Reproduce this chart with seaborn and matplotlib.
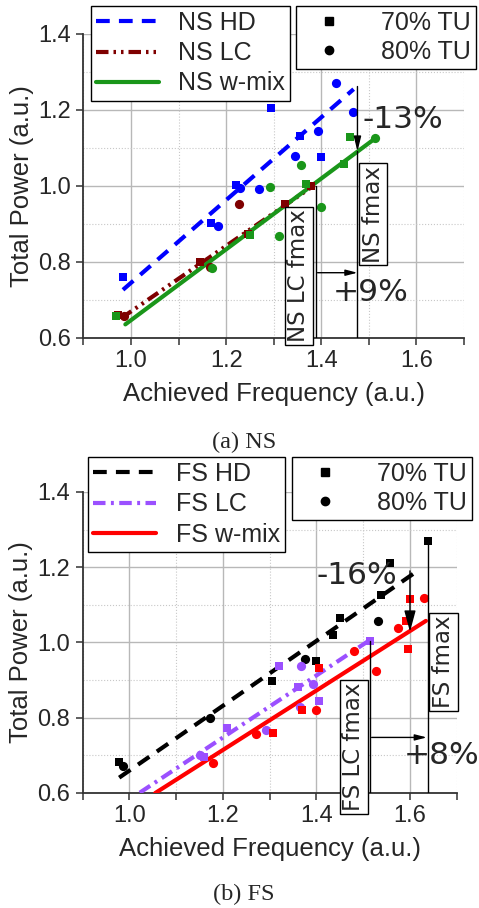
import matplotlib
matplotlib.use("Agg")
import matplotlib.pyplot as plt
import seaborn as sns
import pandas as pd
from matplotlib.lines import Line2D
from matplotlib.ticker import MultipleLocator

# ---------------- data: (a) NS ----------------
ns_hd_sq_x = [0.984, 1.169, 1.221, 1.295, 1.355, 1.400]
ns_hd_sq_y = [0.759, 0.901, 1.002, 1.205, 1.131, 1.076]
ns_hd_ci_x = [1.183, 1.228, 1.269, 1.344, 1.392, 1.431, 1.466]
ns_hd_ci_y = [0.895, 0.994, 0.991, 1.078, 1.145, 1.271, 1.193]
ns_lc_sq_x = [0.972, 1.144, 1.245, 1.323, 1.379]
ns_lc_sq_y = [0.660, 0.800, 0.873, 0.952, 0.999]
ns_lc_ci_x = [0.986, 1.165, 1.227]
ns_lc_ci_y = [0.657, 0.787, 0.952]
ns_wm_sq_x = [0.969, 1.251, 1.367, 1.448, 1.460]
ns_wm_sq_y = [0.657, 0.870, 1.004, 1.056, 1.129]
ns_wm_ci_x = [1.171, 1.292, 1.310, 1.358, 1.399, 1.513]
ns_wm_ci_y = [0.783, 0.997, 0.868, 1.054, 0.945, 1.125]
ns_hd_fit_x = [0.983, 1.468]
ns_hd_fit_y = [0.726, 1.254]
ns_lc_fit_x = [0.979, 1.386]
ns_lc_fit_y = [0.651, 1.002]
ns_wm_fit_x = [0.988, 1.516]
ns_wm_fit_y = [0.635, 1.127]

# ---------------- data: (b) FS ----------------
fs_hd_sq_x = [0.978, 1.304, 1.399, 1.436, 1.450, 1.539, 1.557, 1.639]
fs_hd_sq_y = [0.682, 0.898, 0.951, 1.019, 1.064, 1.126, 1.212, 1.270]
fs_hd_ci_x = [0.987, 1.172, 1.375, 1.531]
fs_hd_ci_y = [0.670, 0.799, 0.955, 1.057]
fs_lc_sq_x = [1.160, 1.209, 1.320, 1.361, 1.406, 1.514]
fs_lc_sq_y = [0.695, 0.773, 0.937, 0.882, 0.843, 1.004]
fs_lc_ci_x = [1.151, 1.293, 1.365, 1.366, 1.393]
fs_lc_ci_y = [0.700, 0.766, 0.828, 0.938, 0.890]
fs_wm_sq_x = [1.308, 1.370, 1.405, 1.591, 1.595, 1.600]
fs_wm_sq_y = [0.760, 0.821, 0.931, 1.057, 0.982, 1.115]
fs_wm_ci_x = [1.179, 1.270, 1.399, 1.480, 1.527, 1.574, 1.631]
fs_wm_ci_y = [0.679, 0.757, 0.819, 0.977, 0.924, 1.039, 1.117]
fs_hd_fit_x = [0.978, 1.616]
fs_hd_fit_y = [0.640, 1.190]
fs_lc_fit_x = [1.022, 1.514]
fs_lc_fit_y = [0.600, 1.006]
fs_wm_fit_x = [1.055, 1.634]
fs_wm_fit_y = [0.599, 1.057]

ns_labels = ["NS HD", "NS LC", "NS w-mix"]
fs_labels = ["FS HD", "FS LC", "FS w-mix"]
tu_labels = ["70% TU", "80% TU"]

sns.set_style("white")
plt.rcParams["font.family"] = ["Liberation Sans", "DejaVu Sans"]

fig = plt.figure(figsize=(4.79, 9.08), dpi=100)
ax1 = fig.add_axes([0.1743, 0.6281, 0.7944, 0.3348])
ax2 = fig.add_axes([0.1727, 0.1270, 0.7808, 0.3312])

C_BLUE, C_DRED, C_GREEN = "#0000ff", "#7f0000", "#1a961a"
C_BLACK, C_PURP, C_RED = "#000000", "#9b50ff", "#ff0000"
LS_HD = (0, (3.3, 2.2))
LS_LC_NS = (0, (3.0, 1.2, 0.6, 1.2, 0.6, 1.2))
LS_LC_FS = (0, (3.0, 1.3, 0.7, 1.3))
LS_WM = "-"
LW = 3.0


def style_axis(ax):
    ax.set_xlim(0.9, 1.7)
    ax.set_ylim(0.6, 1.4)
    ax.xaxis.set_major_locator(MultipleLocator(0.2))
    ax.xaxis.set_minor_locator(MultipleLocator(0.1))
    ax.yaxis.set_major_locator(MultipleLocator(0.2))
    ax.yaxis.set_minor_locator(MultipleLocator(0.1))
    ax.set_xticks([1.0, 1.2, 1.4, 1.6])
    ax.set_xticklabels(["1.0", "1.2", "1.4", "1.6"])
    ax.set_yticks([0.6, 0.8, 1.0, 1.2, 1.4])
    ax.set_yticklabels(["0.6", "0.8", "1.0", "1.2", "1.4"])
    ax.tick_params(axis="x", which="both", direction="out", length=5, width=1.1,
                   color="#333333", labelsize=17, pad=4, bottom=True)
    ax.tick_params(axis="y", which="major", direction="out", length=5, width=1.1,
                   color="#333333", labelsize=17, pad=4, left=True)
    ax.tick_params(axis="y", which="minor", length=0)
    ax.grid(which="major", color="#b8b8b8", lw=1.0, ls="-")
    ax.grid(which="minor", color="#c8c8c8", lw=0.8, ls=":")
    ax.set_axisbelow(True)
    for s in ["top", "right"]:
        ax.spines[s].set_visible(False)
    for s in ["left", "bottom"]:
        ax.spines[s].set_color("#333333")
        ax.spines[s].set_linewidth(1.3)
    ax.set_xlabel("Achieved Frequency (a.u.)", fontsize=18.5, labelpad=7)
    ax.set_ylabel("Total Power (a.u.)", fontsize=18.5, labelpad=3)


def draw_series(ax, sqx, sqy, cix, ciy, fx, fy, color, ls):
    sns.lineplot(x=fx, y=fy, ax=ax, color=color, lw=LW, linestyle=ls,
                 sort=False, estimator=None, zorder=3)
    sns.scatterplot(x=sqx, y=sqy, ax=ax, color=color, marker="s", s=34,
                    linewidth=0, zorder=4)
    sns.scatterplot(x=cix, y=ciy, ax=ax, color=color, marker="o", s=44,
                    linewidth=0, zorder=4)


def fmax_box(ax, x, y, label):
    ax.text(x, y, label, rotation=90, ha="center", va="center", fontsize=16.5,
            family="DejaVu Sans", zorder=6, clip_on=False,
            bbox=dict(boxstyle="square,pad=0.12", fc="white", ec="black", lw=1))


def arrow(ax, x0, y0, x1, y1, hl=0.8, hw=0.25):
    ax.annotate("", xy=(x1, y1), xytext=(x0, y0), zorder=5,
                arrowprops=dict(arrowstyle=f"-|>,head_length={hl},head_width={hw}",
                                color="black", lw=1, shrinkA=0, shrinkB=0))


# ---------------- panel (a) ----------------
draw_series(ax1, ns_hd_sq_x, ns_hd_sq_y, ns_hd_ci_x, ns_hd_ci_y, ns_hd_fit_x, ns_hd_fit_y, C_BLUE, LS_HD)
draw_series(ax1, ns_lc_sq_x, ns_lc_sq_y, ns_lc_ci_x, ns_lc_ci_y, ns_lc_fit_x, ns_lc_fit_y, C_DRED, LS_LC_NS)
draw_series(ax1, ns_wm_sq_x, ns_wm_sq_y, ns_wm_ci_x, ns_wm_ci_y, ns_wm_fit_x, ns_wm_fit_y, C_GREEN, LS_WM)
style_axis(ax1)

ax1.plot([1.388, 1.388], [0.6, 1.0], color="black", lw=1, zorder=5)
ax1.plot([1.476, 1.476], [0.6, 1.09], color="black", lw=1, zorder=5)
arrow(ax1, 1.476, 1.261, 1.476, 1.09, hl=0.9, hw=0.22)
arrow(ax1, 1.392, 0.771, 1.476, 0.771, hl=0.7, hw=0.18)
fmax_box(ax1, 1.353, 0.763, "NS LC fmax")
fmax_box(ax1, 1.509, 0.925, "NS fmax")
ax1.text(1.571, 1.175, "-13%", fontsize=22.5, family="DejaVu Sans", ha="center", va="center", zorder=6)
ax1.text(1.503, 0.718, "+9%", fontsize=22.5, family="DejaVu Sans", ha="center", va="center", zorder=6)

# ---------------- panel (b) ----------------
draw_series(ax2, fs_hd_sq_x, fs_hd_sq_y, fs_hd_ci_x, fs_hd_ci_y, fs_hd_fit_x, fs_hd_fit_y, C_BLACK, LS_HD)
draw_series(ax2, fs_lc_sq_x, fs_lc_sq_y, fs_lc_ci_x, fs_lc_ci_y, fs_lc_fit_x, fs_lc_fit_y, C_PURP, LS_LC_FS)
draw_series(ax2, fs_wm_sq_x, fs_wm_sq_y, fs_wm_ci_x, fs_wm_ci_y, fs_wm_fit_x, fs_wm_fit_y, C_RED, LS_WM)
style_axis(ax2)

ax2.plot([1.514, 1.514], [0.6, 1.004], color="black", lw=1, zorder=5)
ax2.plot([1.638, 1.638], [0.6, 1.27], color="black", lw=1, zorder=5)
arrow(ax2, 1.600, 1.190, 1.600, 1.028, hl=1.3, hw=0.35)
arrow(ax2, 1.518, 0.747, 1.636, 0.747, hl=0.7, hw=0.18)
fmax_box(ax2, 1.480, 0.722, "FS LC fmax")
fmax_box(ax2, 1.672, 0.947, "FS fmax")
ax2.text(1.486, 1.179, "-16%", fontsize=22.5, family="DejaVu Sans", ha="center", va="center", zorder=6)
ax2.text(1.668, 0.699, "+8%", fontsize=22.5, family="DejaVu Sans", ha="center", va="center", zorder=6)

# ---------------- legends ----------------
def line_legend(labels, colors, styles, anchor):
    handles = [Line2D([], [], color=c, lw=LW, linestyle=s) for c, s in zip(colors, styles)]
    leg = fig.legend(handles, labels, loc="upper left", bbox_to_anchor=anchor,
                     bbox_transform=fig.transFigure, frameon=True, fancybox=False,
                     edgecolor="black", framealpha=1, fontsize=18, handlelength=2.5,
                     handletextpad=0.8, labelspacing=0.25, borderpad=0.2, borderaxespad=0)
    leg.get_frame().set_linewidth(1)
    return leg


def marker_legend(anchor):
    handles = [Line2D([], [], color="black", marker="s", ls="none", ms=5.5),
               Line2D([], [], color="black", marker="o", ls="none", ms=6.0)]
    leg = fig.legend(handles, tu_labels, loc="upper left", bbox_to_anchor=anchor,
                     bbox_transform=fig.transFigure, frameon=True, fancybox=False,
                     edgecolor="black", framealpha=1, fontsize=18, handlelength=2.2,
                     handletextpad=1.0, labelspacing=0.2, borderpad=0.2, borderaxespad=0)
    leg.get_frame().set_linewidth(1)
    return leg


line_legend(ns_labels, [C_BLUE, C_DRED, C_GREEN], [LS_HD, LS_LC_NS, LS_WM], (91 / 479, 1 - 6 / 908))
marker_legend((296 / 479, 1 - 6 / 908))
line_legend(fs_labels, [C_BLACK, C_PURP, C_RED], [LS_HD, LS_LC_FS, LS_WM], (88 / 479, 1 - 457 / 908))
marker_legend((292 / 479, 1 - 457 / 908))

# captions
fig.text(244 / 479, 1 - 442 / 908, "(a) NS", ha="center", va="center", fontsize=17.5,
         family="Liberation Serif")
fig.text(244 / 479, 1 - 894 / 908, "(b) FS", ha="center", va="center", fontsize=17.5,
         family="Liberation Serif")

fig.savefig("out.png", dpi=100)
